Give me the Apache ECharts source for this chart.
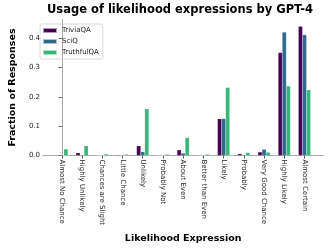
<!DOCTYPE html>
<html><head><meta charset="utf-8">
<script src="https://cdn.jsdelivr.net/npm/echarts@6/dist/echarts.min.js"></script>
<style>html,body{margin:0;padding:0;background:#fff}#c{width:332px;height:249px}</style>
</head><body><div id="c"></div>
<script>
const categories = ["Almost No Chance","Highly Unlikely","Chances are Slight","Little Chance","Unlikely","Probably Not","About Even","Better than Even","Likely","Probably","Very Good Chance","Highly Likely","Almost Certain"];
const triviaQA = [0.002,0.009,0.001,0.002,0.033,0.001,0.019,0.001,0.125,0.006,0.012,0.351,0.441];
const sciQ = [0.001,0.002,0.000,0.001,0.013,0.000,0.008,0.001,0.126,0.002,0.021,0.421,0.412];
const truthfulQA = [0.022,0.033,0.005,0.004,0.159,0.004,0.061,0.004,0.232,0.010,0.011,0.237,0.224];
const yTicks = [0, 0.1, 0.2, 0.3, 0.4];

const FONT = 'DejaVu Sans';
const seriesDefs = [
  {name:'TriviaQA', data:triviaQA, off:-0.2, color:'#440154'},
  {name:'SciQ', data:sciQ, off:0, color:'#31688e'},
  {name:'TruthfulQA', data:truthfulQA, off:0.2, color:'#35b779'}
];
const tickIdx = categories.map((c,i)=>i);
const chart = echarts.init(document.getElementById('c'), null, {renderer:'canvas'});
chart.setOption({
  animation:false,
  textStyle:{fontFamily:FONT},
  title:{text:'Usage of likelihood expressions by GPT-4', left:47, top:4, padding:0,
    textStyle:{fontFamily:FONT, fontWeight:'bold', fontSize:11.5, color:'#000'}},
  legend:{left:40, top:24, orient:'vertical', itemWidth:14, itemHeight:5, itemGap:2,
    padding:[2,4,2,2], borderColor:'#d0d0d0', borderWidth:0.8, borderRadius:2,
    icon:'rect', textStyle:{fontFamily:FONT, fontSize:7, color:'#222', lineHeight:9},
    data:seriesDefs.map(s=>s.name)},
  grid:{left:35.7, right:8.7, top:19.5, bottom:93.5, containLabel:false},
  xAxis:{type:'value', min:-0.93, max:12.93,
    name:'Likelihood Expression', nameLocation:'middle', nameGap:78,
    nameTextStyle:{fontFamily:FONT, fontWeight:'bold', fontSize:9.5, color:'#000'},
    axisLine:{show:true, lineStyle:{color:'#aaaaaa', width:1}},
    axisTick:{show:true, length:3, customValues:tickIdx, lineStyle:{color:'#555'}},
    axisLabel:{customValues:tickIdx, rotate:-90, fontSize:7, color:'#222', margin:4,
      formatter:v=>categories[Math.round(v)]},
    splitLine:{show:false}},
  yAxis:{type:'value', min:0, max:0.464, interval:0.1,
    name:'Fraction of Responses', nameLocation:'middle', nameGap:24, nameRotate:90,
    nameTextStyle:{fontFamily:FONT, fontWeight:'bold', fontSize:9.5, color:'#000'},
    axisLine:{show:true, lineStyle:{color:'#aaaaaa', width:1}},
    axisTick:{show:true, length:3, customValues:yTicks, lineStyle:{color:'#555'}},
    axisLabel:{customValues:yTicks, fontSize:7, color:'#222', margin:3, formatter:v=>v.toFixed(1)},
    splitLine:{show:false}},
  series:seriesDefs.map(s=>({
    name:s.name, type:'bar', barWidth:4.15, barGap:'-100%',
    itemStyle:{color:s.color, borderColor:'rgba(255,255,255,0.6)', borderWidth:0.3},
    data:s.data.map((v,i)=>[i+s.off, v])
  }))
});
</script></body></html>
